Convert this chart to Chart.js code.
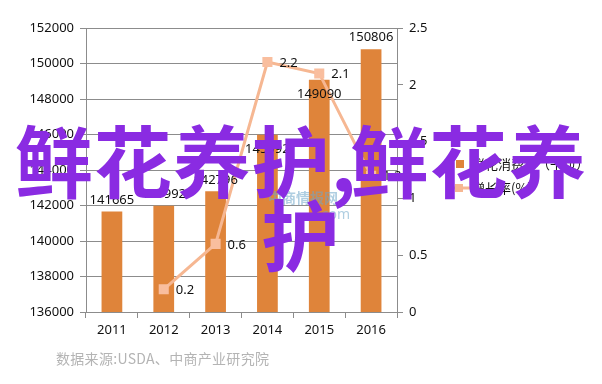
<!DOCTYPE html>
<html><head><meta charset="utf-8">
<script src="https://cdn.jsdelivr.net/npm/chart.js@4.4.0/dist/chart.umd.min.js"></script>
<style>
html,body{margin:0;padding:0;background:#fff;}
#wrap{position:relative;width:602px;height:384px;overflow:hidden;}
#c{position:absolute;left:0;top:0;}
#src{position:absolute;left:56px;top:348px;font-family:"Noto Sans CJK SC";font-size:14px;color:#b4b4b4;white-space:nowrap;letter-spacing:0.3px;}
#logo{position:absolute;left:268px;top:188px;font-family:"Noto Sans CJK SC";font-size:14px;color:rgba(110,165,200,0.55);line-height:18px;font-weight:700;}
#logo2{position:absolute;left:318px;top:204px;font-family:"Noto Sans";font-size:14px;color:rgba(110,165,200,0.55);}
#wm{position:absolute;left:-20px;top:121px;width:642px;text-align:center;font-family:"Noto Sans CJK SC";font-weight:700;font-size:78px;line-height:74px;color:#8A2BE2;letter-spacing:1px;}
#wm .cm{letter-spacing:-6px;}
</style></head>
<body><div id="wrap">
<canvas id="c" width="602" height="384"></canvas>
<div id="logo">中商情报网</div>
<div id="logo2">.com</div>
<div id="wm">鲜花养护<span class="cm">,</span>鲜花养<br>护</div>
<div id="src">数据来源:USDA、中商产业研究院</div>
</div>
<script>
const categories = ["2011","2012","2013","2014","2015","2016"];
const salesValues = [141665, 141992, 142796, 145992, 149090, 150806];
const growthValues = [null, 0.2, 0.6, 2.2, 2.1, 1.2];
const seriesNames = ["鲜花消费量（千包）", "增长率(%)"];
const leftTicks = [136000, 152000, 2000];
const rightTicks = [0, 2.5, 0.5];

const BAR = "#DF843A", LINE = "#F6B792", GRID = "#8c8c8c";
const numFont = {family: "Noto Sans", size: 13};

const labelPlugin = {
  id: "labels",
  afterDatasetsDraw(chart) {
    const ctx = chart.ctx;
    ctx.save();
    ctx.font = "13px 'Noto Sans'";
    ctx.fillStyle = "#111";
    const bm = chart.getDatasetMeta(0);
    const lm = chart.getDatasetMeta(1);
    ctx.textAlign = "center"; ctx.textBaseline = "bottom";
    bm.data.forEach((el, i) => {
      // labels that would collide with the growth line sit just inside the bar top, as in the source
      const p = lm.data[i];
      const inside = growthValues[i] !== null && p && Math.abs(p.y - el.y) < 80 && p.y < el.y + 10;
      ctx.fillText(String(salesValues[i]), el.x, inside ? el.y + 21 : el.y - 5);
    });
    ctx.textAlign = "left"; ctx.textBaseline = "middle";
    lm.data.forEach((el, i) => {
      if (growthValues[i] === null) return;
      ctx.fillText(String(growthValues[i]), el.x + 12, el.y + 1);
    });
    ctx.restore();
  },
  afterDraw(chart) {
    const ctx = chart.ctx;
    ctx.save();
    ctx.font = "13px 'Noto Sans CJK SC'";
    ctx.textBaseline = "middle"; ctx.textAlign = "left";
    ctx.fillStyle = BAR;
    ctx.fillRect(456, 160, 8, 8);
    ctx.fillStyle = "#111";
    ctx.fillText(seriesNames[0], 472, 164);
    ctx.strokeStyle = LINE; ctx.lineWidth = 3;
    ctx.beginPath(); ctx.moveTo(448, 188); ctx.lineTo(470, 188); ctx.stroke();
    ctx.fillStyle = LINE; ctx.fillRect(455, 184, 8, 8);
    ctx.fillStyle = "#111";
    ctx.fillText(seriesNames[1], 472, 188);
    ctx.restore();
  }
};

new Chart(document.getElementById("c"), {
  data: {
    labels: categories,
    datasets: [
      {type: "bar", label: seriesNames[0], data: salesValues, backgroundColor: BAR,
       yAxisID: "y", order: 2, categoryPercentage: 1, barPercentage: 0.4},
      {type: "line", label: seriesNames[1], data: growthValues, borderColor: LINE,
       backgroundColor: LINE, borderWidth: 3, pointStyle: "rect", pointRadius: 5,
       pointBackgroundColor: "#F9BE9E", pointBorderColor: "#F9BE9E",
       yAxisID: "y1", order: 1, tension: 0, spanGaps: false}
    ]
  },
  options: {
    responsive: false, animation: false,
    layout: {padding: {top: 28, left: 0, right: 155, bottom: 44}},
    plugins: {legend: {display: false}, tooltip: {enabled: false}},
    scales: {
      x: {
        offset: true,
        grid: {offset: true, drawOnChartArea: false, color: GRID, tickLength: 6},
        border: {color: GRID},
        ticks: {color: "#111", font: numFont, padding: 4},
        afterFit: s => { s.height = 28; }
      },
      y: {
        position: "left", min: leftTicks[0], max: leftTicks[1],
        ticks: {stepSize: leftTicks[2], color: "#111", font: numFont, padding: 6,
                callback: v => String(v)},
        grid: {color: GRID, tickLength: 6},
        border: {color: GRID},
        afterFit: s => { s.width = 86; }
      },
      y1: {
        position: "right", min: rightTicks[0], max: rightTicks[1],
        ticks: {stepSize: rightTicks[2], color: "#111", font: numFont, padding: 6,
                callback: v => String(Math.round(v * 10) / 10)},
        grid: {drawOnChartArea: false, color: GRID, tickLength: 6},
        border: {color: GRID},
        afterFit: s => { s.width = 50; }
      }
    }
  },
  plugins: [labelPlugin]
});
</script>
</body></html>
